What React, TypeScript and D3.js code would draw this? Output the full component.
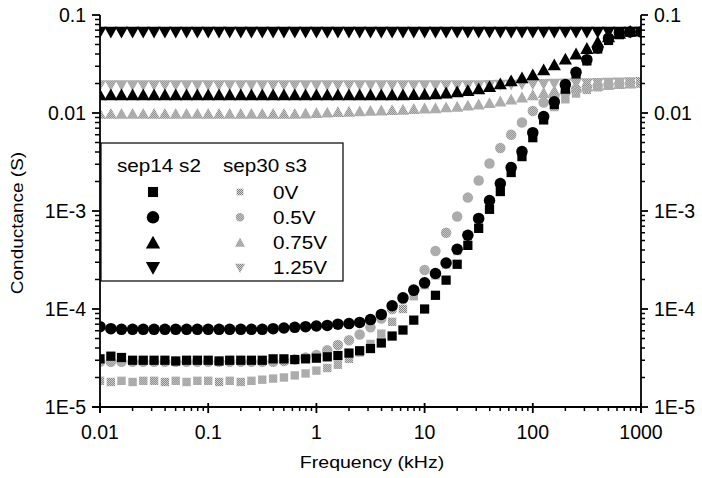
import React from 'react';
import * as d3 from 'd3';

// Frequency grid (kHz)
const freq = [0.01, 0.0126, 0.0158, 0.02, 0.0251, 0.0316, 0.0398, 0.0501, 0.0631, 0.0794,
  0.1, 0.126, 0.158, 0.2, 0.251, 0.316, 0.398, 0.501, 0.631, 0.794,
  1, 1.26, 1.58, 2, 2.51, 3.16, 3.98, 5.01, 6.31, 7.94,
  10, 12.6, 15.8, 20, 25.1, 31.6, 39.8, 50.1, 63.1, 79.4,
  100, 126, 158, 200, 251, 316, 398, 501, 631, 794, 1000];

// sep14 s2 (black)
const s2_0V = [3.1e-5, 3.3e-5, 3.2e-5, 3.0e-5, 3.0e-5, 3.0e-5, 3.0e-5, 2.95e-5, 3.0e-5, 3.0e-5,
  3.0e-5, 2.95e-5, 3.0e-5, 3.0e-5, 3.0e-5, 3.0e-5, 3.1e-5, 3.1e-5, 3.05e-5, 3.1e-5,
  3.15e-5, 3.25e-5, 3.35e-5, 3.55e-5, 3.75e-5, 3.95e-5, 4.5e-5, 5.3e-5, 6.1e-5, 7.7e-5,
  1.0e-4, 1.38e-4, 1.97e-4, 2.86e-4, 4.46e-4, 6.65e-4, 1.04e-3, 1.58e-3, 2.47e-3, 3.59e-3,
  5.6e-3, 8.5e-3, 0.0122, 0.0175, 0.025, 0.034, 0.045, 0.055, 0.063, 0.067, 0.068];
const s2_05V = [6.6e-5, 6.3e-5, 6.2e-5, 6.2e-5, 6.2e-5, 6.2e-5, 6.2e-5, 6.2e-5, 6.2e-5, 6.2e-5,
  6.2e-5, 6.2e-5, 6.2e-5, 6.2e-5, 6.2e-5, 6.2e-5, 6.3e-5, 6.4e-5, 6.5e-5, 6.6e-5,
  6.7e-5, 6.8e-5, 7.0e-5, 7.1e-5, 7.3e-5, 7.8e-5, 8.8e-5, 1.08e-4, 1.3e-4, 1.55e-4,
  1.85e-4, 2.3e-4, 2.95e-4, 4.07e-4, 5.65e-4, 8.4e-4, 1.28e-3, 1.91e-3, 2.78e-3, 4.04e-3,
  6.3e-3, 9.2e-3, 0.013, 0.0195, 0.026, 0.035, 0.046, 0.058, 0.066, 0.067, 0.067];
const s2_075V = [0.0153, 0.0153, 0.0153, 0.0153, 0.0153, 0.0153, 0.0153, 0.0153, 0.0153, 0.0153,
  0.0153, 0.0153, 0.0153, 0.0153, 0.0153, 0.0153, 0.0153, 0.0153, 0.0153, 0.0153,
  0.0153, 0.0153, 0.0153, 0.0153, 0.0153, 0.0153, 0.0153, 0.0153, 0.0153, 0.0154,
  0.0155, 0.0157, 0.016, 0.0164, 0.0169, 0.0176, 0.0186, 0.0198, 0.0213, 0.0228,
  0.0245, 0.0275, 0.031, 0.0355, 0.04, 0.0455, 0.053, 0.06, 0.065, 0.068, 0.069];
const s2_125V = [0.067, 0.067, 0.067, 0.067, 0.067, 0.067, 0.067, 0.067, 0.067, 0.067,
  0.067, 0.067, 0.067, 0.067, 0.067, 0.067, 0.067, 0.067, 0.067, 0.067,
  0.067, 0.067, 0.067, 0.067, 0.067, 0.067, 0.067, 0.067, 0.067, 0.067,
  0.067, 0.067, 0.067, 0.067, 0.067, 0.067, 0.067, 0.067, 0.067, 0.067,
  0.067, 0.067, 0.067, 0.067, 0.067, 0.067, 0.067, 0.067, 0.067, 0.067, 0.067];

// sep30 s3 (gray)
const s3_0V = [1.85e-5, 1.8e-5, 1.85e-5, 1.8e-5, 1.85e-5, 1.85e-5, 1.8e-5, 1.85e-5, 1.8e-5, 1.85e-5,
  1.85e-5, 1.8e-5, 1.85e-5, 1.8e-5, 1.85e-5, 1.9e-5, 1.95e-5, 2.0e-5, 2.1e-5, 2.2e-5,
  2.35e-5, 2.5e-5, 2.7e-5, 3.1e-5, 3.6e-5, 4.4e-5, 5.6e-5, 7.4e-5, 1.0e-4, 1.35e-4,
  1.75e-4, 2.2e-4, 2.85e-4, 3.9e-4, 5.5e-4, 8.1e-4, 1.22e-3, 1.85e-3, 2.7e-3, 3.9e-3,
  5.9e-3, 8.6e-3, 0.0115, 0.0138, 0.0158, 0.0172, 0.0183, 0.019, 0.0196, 0.02, 0.0203];
const s3_05V = [2.9e-5, 2.9e-5, 2.9e-5, 2.9e-5, 2.9e-5, 2.9e-5, 2.9e-5, 2.9e-5, 2.9e-5, 2.9e-5,
  2.9e-5, 2.9e-5, 2.9e-5, 2.9e-5, 2.9e-5, 2.9e-5, 2.9e-5, 2.95e-5, 3.05e-5, 3.2e-5,
  3.4e-5, 3.8e-5, 4.3e-5, 4.8e-5, 5.5e-5, 6.5e-5, 8.0e-5, 1.0e-4, 1.26e-4, 1.6e-4,
  2.5e-4, 3.9e-4, 6.0e-4, 8.8e-4, 1.37e-3, 2.05e-3, 3.05e-3, 4.4e-3, 6.0e-3, 8.0e-3,
  0.0105, 0.0128, 0.0148, 0.0163, 0.0175, 0.0184, 0.019, 0.0195, 0.0199, 0.0202, 0.0205];
const s3_075V = [0.0098, 0.0098, 0.0098, 0.0098, 0.0098, 0.0098, 0.0098, 0.0098, 0.0098, 0.0098,
  0.0098, 0.0098, 0.0098, 0.0098, 0.0098, 0.0098, 0.0098, 0.0098, 0.0098, 0.0099,
  0.01, 0.0101, 0.0102, 0.0103, 0.0104, 0.0105, 0.0106, 0.0107, 0.0108, 0.011,
  0.0111, 0.0112, 0.0114, 0.0116, 0.0119, 0.0122, 0.0126, 0.0131, 0.0137, 0.0144,
  0.0152, 0.016, 0.0168, 0.0175, 0.0181, 0.0186, 0.019, 0.0194, 0.0197, 0.02, 0.0203];
const s3_125V = [0.0192, 0.0192, 0.0192, 0.0192, 0.0192, 0.0192, 0.0192, 0.0192, 0.0192, 0.0192,
  0.0192, 0.0192, 0.0192, 0.0192, 0.0192, 0.0192, 0.0192, 0.0192, 0.0192, 0.0192,
  0.0192, 0.0192, 0.0192, 0.0192, 0.0192, 0.0192, 0.0192, 0.0192, 0.0192, 0.0192,
  0.0192, 0.0192, 0.0192, 0.0192, 0.0192, 0.0192, 0.0193, 0.0194, 0.0195, 0.0196,
  0.0197, 0.0198, 0.0199, 0.02, 0.0201, 0.0202, 0.0203, 0.0204, 0.0205, 0.0206, 0.0207];

const xTicks = [0.01, 0.1, 1, 10, 100, 1000];
const xTickLabels = ['0.01', '0.1', '1', '10', '100', '1000'];
const yTicks = [1e-5, 1e-4, 1e-3, 0.01, 0.1];
const yTickLabels = ['1E-5', '1E-4', '1E-3', '0.01', '0.1'];
const legendVoltages = ['0V', '0.5V', '0.75V', '1.25V'];
const shapes = ['square', 'circle', 'up', 'down'];

const W = 702, H = 478;
const L = 100, R = 641, T = 15, B = 407;
const FONT = '"Liberation Sans", Arial, Helvetica, sans-serif';

function markerPath(shape: string, s: number) {
  if (shape === 'square') { const h = s * 0.42; return `M${-h},${-h}H${h}V${h}H${-h}Z`; }
  if (shape === 'circle') { const r = s * 0.5; return `M${-r},0A${r},${r} 0 1,0 ${r},0A${r},${r} 0 1,0 ${-r},0Z`; }
  if (shape === 'up') { const w = s * 0.55, h = s * 0.45; return `M0,${-h - 1}L${w},${h}L${-w},${h}Z`; }
  const w = s * 0.55, h = s * 0.45; return `M0,${h + 1}L${w},${-h}L${-w},${-h}Z`;
}

export default function App() {
  const x = d3.scaleLog().domain([0.01, 1000]).range([L, R]);
  const y = d3.scaleLog().domain([1e-5, 0.1]).range([B, T]);

  const black = [s2_0V, s2_05V, s2_075V, s2_125V];
  const gray = [s3_0V, s3_05V, s3_075V, s3_125V];

  const minorX: number[] = [];
  for (let d = -2; d < 3; d++) for (let m = 2; m <= 9; m++) minorX.push(m * Math.pow(10, d));
  const minorY: number[] = [];
  for (let d = -5; d < -1; d++) for (let m = 2; m <= 9; m++) minorY.push(m * Math.pow(10, d));

  const sizes = [11, 11.5, 12, 12];

  return (
    <svg width={W} height={H} style={{ position: 'absolute', left: 0, top: 0, background: '#fff' }}>
      <defs>
        <pattern id="ht" width="2" height="2" patternUnits="userSpaceOnUse">
          <rect width="2" height="2" fill="#dcdcdc" />
          <rect width="1" height="1" fill="#7c7c7c" />
          <rect x="1" y="1" width="1" height="1" fill="#7c7c7c" />
        </pattern>
        <clipPath id="plot"><rect x={L} y={0} width={R - L} height={B} /></clipPath>
      </defs>
      <rect width={W} height={H} fill="#fff" />

      <g clipPath="url(#plot)">
        {gray.map((ser, si) => (
          <g key={'g' + si}>
            {ser.map((v, i) => (
              <path key={i} d={markerPath(shapes[si], sizes[si] - 1)} transform={`translate(${x(freq[i])},${y(v)})`} fill="url(#ht)" />
            ))}
          </g>
        ))}
        {black.map((ser, si) => (
          <g key={'b' + si}>
            {ser.map((v, i) => (
              <path key={i} d={markerPath(shapes[si], sizes[si])} transform={`translate(${x(freq[i])},${y(v)})`} fill="#000" />
            ))}
          </g>
        ))}
      </g>

      {/* axes */}
      <g stroke="#000" strokeWidth={1.8} fill="none">
        <line x1={L} y1={T} x2={L} y2={B + 6} />
        <line x1={R} y1={T} x2={R} y2={B + 6} />
        <line x1={L - 8} y1={B} x2={R} y2={B} />
        {yTicks.map((t) => <line key={'yl' + t} x1={L - 8} x2={L} y1={y(t)} y2={y(t)} />)}
        {minorY.map((t) => <line key={'ylm' + t} x1={L - 5} x2={L} y1={y(t)} y2={y(t)} strokeWidth={1.5} />)}
        {yTicks.map((t) => <line key={'yr' + t} x1={R} x2={R + 7} y1={y(t)} y2={y(t)} />)}
        {minorY.map((t) => <line key={'yrm' + t} x1={R} x2={R + 4} y1={y(t)} y2={y(t)} strokeWidth={1.5} />)}
        {xTicks.map((t) => <line key={'x' + t} x1={x(t)} x2={x(t)} y1={B - 4} y2={B + 6} />)}
        {minorX.map((t) => <line key={'xm' + t} x1={x(t)} x2={x(t)} y1={B} y2={B + 4} strokeWidth={1.5} />)}
      </g>

      <g fontFamily={FONT} fontSize={19.5} fill="#000">
        {yTicks.map((t, i) => (
          <text key={'lt' + t} x={L - 14} y={y(t) + 7} textAnchor="end">{yTickLabels[i]}</text>
        ))}
        {yTicks.map((t, i) => (
          <text key={'rt' + t} x={R + 13} y={y(t) + 7} textAnchor="start">{yTickLabels[i]}</text>
        ))}
        {xTicks.map((t, i) => (
          <text key={'bt' + t} x={x(t)} y={439} textAnchor="middle">{xTickLabels[i]}</text>
        ))}
      </g>

      <g fontFamily={FONT} fontSize={17} fill="#000">
        <text transform={`translate(372,468) scale(1.15,1)`} textAnchor="middle">Frequency (kHz)</text>
        <text transform={`translate(23,223) rotate(-90) scale(1.15,1)`} textAnchor="middle" fontSize={16.5}>Conductance (S)</text>
      </g>

      {/* legend */}
      <g>
        <rect x={101} y={143} width={242} height={138} fill="#fff" stroke="#000" strokeWidth={1.2} />
        <g fontFamily={FONT} fontSize={18} fill="#000">
          <text transform="translate(117,172) scale(1.15,1)">sep14 s2</text>
          <text transform="translate(223,172) scale(1.15,1)">sep30 s3</text>
          {legendVoltages.map((lab, i) => (
            <text key={lab} transform={`translate(273,${198.5 + i * 25.3}) scale(1.15,1)`}>{lab}</text>
          ))}
        </g>
        {shapes.map((sh, i) => (
          <g key={sh}>
            <path d={markerPath(sh, sizes[i] + 1)} transform={`translate(153,${192 + i * 25.3})`} fill="#000" />
            <path d={markerPath(sh, sizes[i] - 3)} transform={`translate(240,${192 + i * 25.3})`} fill="url(#ht)" />
          </g>
        ))}
      </g>
    </svg>
  );
}
